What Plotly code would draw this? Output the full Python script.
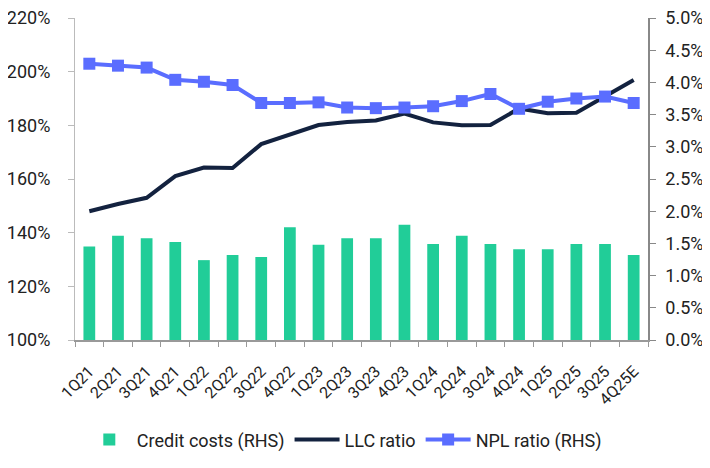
import plotly.graph_objects as go

categories = ["1Q21","2Q21","3Q21","4Q21","1Q22","2Q22","3Q22","4Q22","1Q23","2Q23",
              "3Q23","4Q23","1Q24","2Q24","3Q24","4Q24","1Q25","2Q25","3Q25","4Q25E"]
credit_costs = [1.45,1.62,1.58,1.52,1.24,1.32,1.29,1.75,1.48,1.58,
                1.58,1.79,1.49,1.62,1.49,1.41,1.41,1.49,1.49,1.32]
llc_ratio = [148.0,150.7,153.0,161.1,164.3,164.1,173.0,176.4,180.1,181.2,
             181.8,184.4,181.1,180.0,180.1,186.3,184.5,184.7,190.7,196.9]
npl_ratio = [4.29,4.26,4.23,4.04,4.01,3.96,3.68,3.68,3.69,3.61,
             3.60,3.61,3.63,3.71,3.82,3.59,3.70,3.75,3.78,3.68]

green = "#21CD98"
navy = "#13223F"
blue = "#5A6DFF"
font = "Roboto, Inter, sans-serif"

fig = go.Figure()
fig.add_trace(go.Bar(x=categories, y=credit_costs, name="Credit costs (RHS)",
                     marker=dict(color=green, line=dict(width=0)), yaxis="y2"))
fig.add_trace(go.Scatter(x=categories, y=llc_ratio, name="LLC ratio", mode="lines",
                         line=dict(color=navy, width=4), yaxis="y"))
fig.add_trace(go.Scatter(x=categories, y=npl_ratio, name="NPL ratio (RHS)", mode="lines+markers",
                         line=dict(color=blue, width=4),
                         marker=dict(symbol="square", size=12, color=blue), yaxis="y2"))

fig.update_layout(
    width=702, height=460,
    margin=dict(l=67, r=62, t=10, b=128),
    paper_bgcolor="white", plot_bgcolor="white",
    font=dict(family=font, size=16, color="#222222"),
    bargap=0.59,
    showlegend=True,
    legend=dict(orientation="h", x=0.47, xanchor="center", y=-0.31, yanchor="middle",
                font=dict(size=18, color="#222222"), traceorder="normal",
                itemwidth=45),
    xaxis=dict(type="category", range=[-0.5, len(categories) - 0.5],
               tickangle=-45, tickson="boundaries", automargin=False,
               ticks="outside", ticklen=5, tickcolor="#999999",
               ticklabelstandoff=14,
               showline=True, linecolor="#999999", linewidth=1.5,
               showgrid=False, tickfont=dict(size=16)),
    yaxis=dict(range=[100, 220], dtick=20, ticksuffix="%", showgrid=False, automargin=False,
               ticklabeloverflow="allow", ticklabelstandoff=14,
               showline=True, linecolor="#bbbbbb", linewidth=1,
               ticks="outside", ticklen=6, tickcolor="#bbbbbb", zeroline=False,
               tickfont=dict(size=18)),
    yaxis2=dict(range=[0, 5], dtick=0.5, tickformat=".1f", ticksuffix="%", automargin=False,
                ticklabeloverflow="allow", ticklabelstandoff=6,
                overlaying="y", side="right", showgrid=False,
                showline=True, linecolor="#888888", linewidth=1.5,
                ticks="outside", ticklen=6, tickcolor="#888888", zeroline=False,
                tickfont=dict(size=18)),
)

fig.write_html("out.html")
